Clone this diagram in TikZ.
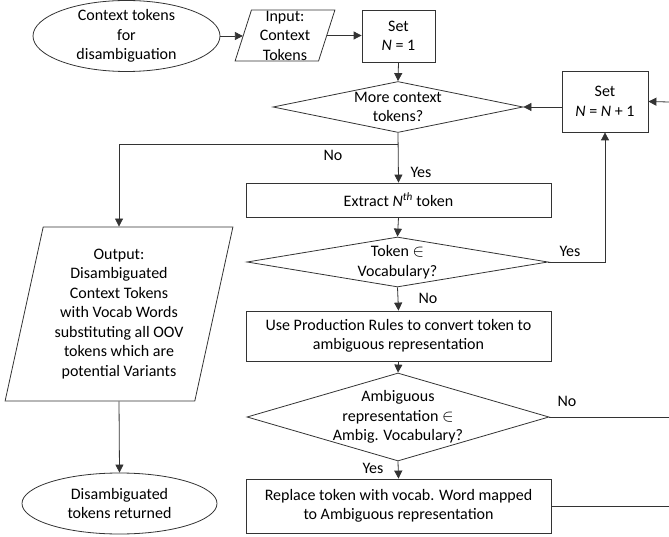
\documentclass[tikz,border=0pt]{standalone}
\usepackage{fontspec}
\setmainfont{Carlito}
\usetikzlibrary{shapes.geometric,arrows.meta}
\begin{document}
\begin{tikzpicture}[x=1pt,y=-1pt,
  every node/.style={font=\fontsize{16}{19.5}\selectfont, align=center, inner sep=0pt},
  ln/.style={draw=black!80, line width=0.8pt},
  arr/.style={ln, -{Triangle[length=8pt,width=8pt]}},
  box/.style={ln, rectangle},
  oval/.style={ln, ellipse},
  dia/.style={ln, diamond},
  para/.style={ln, trapezium, trapezium left angle=76, trapezium right angle=104, trapezium stretches=true},
  lbl/.style={}
]
\useasboundingbox (0,0) rectangle (669,537);
% shapes
\node[oval, minimum width=187, minimum height=71] (e1) at (126.5,36) {};
\node (e1t) at (e1) {Context tokens\\for\\disambiguation};
\node[para, minimum width=100, minimum height=51] (inp) at (285,35.5) {Input:\\Context\\Tokens};
\node[box, minimum width=73, minimum height=52] (set1) at (398.5,36) {Set\\\textit{N} = 1};
\node[dia, minimum width=250, minimum height=51] (d1) at (398,107) {};
\node (d1t) at (d1) {More context\\tokens?};
\node[box, minimum width=86, minimum height=61] (setn) at (605,101.5) {Set\\\textit{N} = \textit{N} + 1};
\node[box, minimum width=305, minimum height=34] (ext) at (398.5,200) {Extract \textit{N}\textsuperscript{\textit{th}} token};
\node[dia, minimum width=301, minimum height=50] (d2) at (397.5,262) {};
\node (d2t) at (d2) {Token $\in$\\Vocabulary?};
\node[box, minimum width=305, minimum height=50] (use) at (398.5,336) {Use Production Rules to convert token to\\ambiguous representation};
\node[dia, minimum width=302, minimum height=88] (d3) at (398,417) {};
\node (d3t) at (d3) {Ambiguous\\representation $\in$\\Ambig. Vocabulary?};
\node[box, minimum width=305, minimum height=54] (rep) at (398.5,506) {Replace token with vocab. Word mapped\\to Ambiguous representation};
\node[para, minimum width=228, minimum height=174] (out) at (119,314) {Output:\\Disambiguated\\Context Tokens\\with Vocab Words\\substituting all OOV\\tokens which are\\potential Variants};
\node[oval, minimum width=195, minimum height=61] (e2) at (119.5,503.5) {};
\node (e2t) at (e2) {Disambiguated\\tokens returned};
% free ends
\coordinate (r1) at (669,417);
\coordinate (r2) at (669,506);
\coordinate (r3) at (669,102);
% connectors
\draw[arr] (e1.east) -- (e1.east -| inp.west);
\draw[arr] (inp.east) -- (inp.east -| set1.west);
\draw[arr] (set1.south) -- (d1.north);
\draw[arr] (d1.south) -- (ext.north);
\draw[arr] ([yshift=-12pt]d1.south) -| (out.north);
\draw[arr] (ext.south) -- (d2.north);
\draw[arr] (d2.east) -| (setn.south);
\draw[arr] (r3) -- (setn.east);
\draw[arr] (setn.west |- d1.east) -- (d1.east);
\draw[arr] (d2.south) -- (use.north);
\draw[arr] (use.south) -- (d3.north);
\draw[ln] (d3.east) -- (r1);
\draw[arr] (d3.south) -- (rep.north);
\draw[ln] (rep.east) -- (r2);
\draw[arr] (out.south) -- (e2.north);
% labels
\node[lbl] (lno1) at (333,155) {No};
\node[lbl] (lyes1) at (421,172) {Yes};
\node[lbl] (lyes2) at (570,251) {Yes};
\node[lbl] (lno2) at (428,298) {No};
\node[lbl] (lno3) at (567,401) {No};
\node[lbl] (lyes3) at (373,468) {Yes};
\end{tikzpicture}
\end{document}
